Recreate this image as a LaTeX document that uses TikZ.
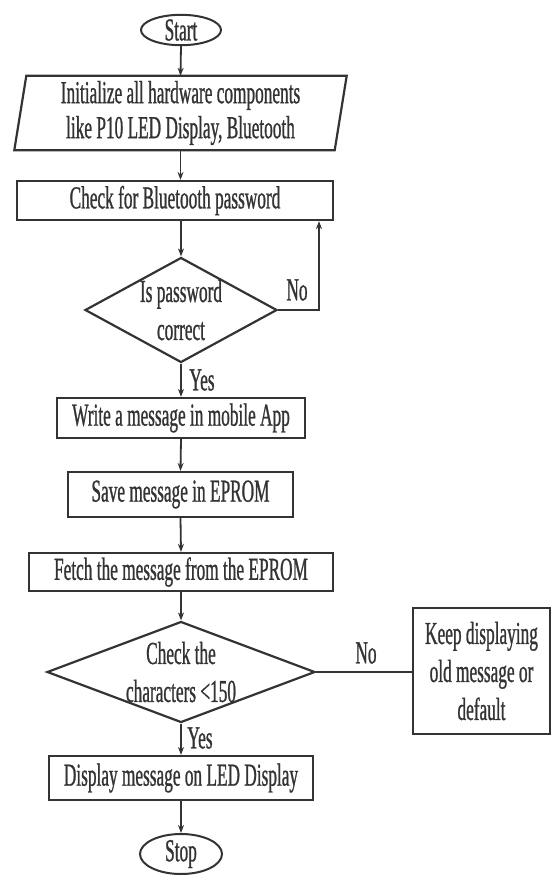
\documentclass[tikz,border=0pt]{standalone}
\usepackage{fontspec}
\setmainfont[FakeStretch=0.54,FakeBold=0.8]{Liberation Serif}
\usetikzlibrary{shapes.geometric,arrows.meta}
\begin{document}
\begin{tikzpicture}[x=1pt,y=-1pt,
  every node/.style={font=\fontsize{32}{38}\selectfont, text=black!80},
  box/.style={draw=black!80, line width=2.2pt, inner sep=0pt, align=center},
  term/.style={draw=black!80, ellipse, line width=2pt, inner sep=0pt},
  dec/.style={draw=black!80, diamond, line width=2.2pt, inner sep=0pt},
  arr/.style={draw=black!80, line width=1.8pt, -{Stealth[length=8pt,width=6pt]}},
  lnk/.style={draw=black!80, line width=2pt},
  lbl/.style={inner sep=0pt}]
\useasboundingbox (0,0) rectangle (552,876);

\node[term, minimum width=80pt, minimum height=30pt] (start) at (181,30) {Start};

\node[inner sep=0pt, minimum width=320pt, minimum height=74pt, align=center,
      font=\fontsize{32}{35}\selectfont] (init) at (180.5,113)
  {Initialize all hardware components\\like P10 LED Display, Bluetooth};
\draw[line width=2.2pt, black!80] ([xshift=6pt]init.north west) -- ([xshift=6pt]init.north east)
  -- ([xshift=-6pt]init.south east) -- ([xshift=-6pt]init.south west) -- cycle;

\node[box, minimum width=316pt, minimum height=39pt] (check) at (175,200.5) {Check for Bluetooth password};

\node[dec, minimum width=192pt, minimum height=105pt,
      label={[align=center, inner sep=0pt]center:{Is password\\correct}}] (d1) at (181,310) {};

\node[box, minimum width=248pt, minimum height=40pt] (write) at (181,418) {Write a message in mobile App};
\node[box, minimum width=225pt, minimum height=45pt] (save) at (180.5,494.5) {Save message in EPROM};
\node[box, minimum width=304pt, minimum height=38pt] (fetch) at (181,572) {Fetch the message from the EPROM};

\node[dec, minimum width=268pt, minimum height=101pt,
      label={[align=center, inner sep=0pt]center:{Check the\\characters <150}}] (d2) at (181,672) {};

\node[box, minimum width=137pt, minimum height=126pt] (keep) at (481.5,671)
  {Keep displaying\\old message or\\default};

\node[box, minimum width=264pt, minimum height=44pt] (disp) at (181,778) {Display message on LED Display};

\node[term, minimum width=82pt, minimum height=40pt] (stop) at (181,854) {Stop};

\node[lbl] (no1) at (297,290) {No};
\node[lbl] (yes1) at (202,380) {Yes};
\node[lbl] (no2) at (366,653) {No};
\node[lbl] (yes2) at (200,738) {Yes};

\draw[arr] (start.south) -- (init.north);
\draw[arr] (init.south) -- (init.south |- check.north);
\draw[arr] (d1.north |- check.south) -- (d1.north);
\draw[arr] (d1.east) -| ([xshift=144pt]check.south);
\draw[arr] (d1.south) -- (write.north);
\draw[arr] (write.south) -- (save.north);
\draw[arr] (save.south) -- (fetch.north);
\draw[arr] (fetch.south) -- (d2.north);
\draw[lnk] (d2.east) -- (d2.east -| keep.west);
\draw[arr] (d2.south) -- (disp.north);
\draw[arr] (disp.south) -- (stop.north);
\end{tikzpicture}
\end{document}
